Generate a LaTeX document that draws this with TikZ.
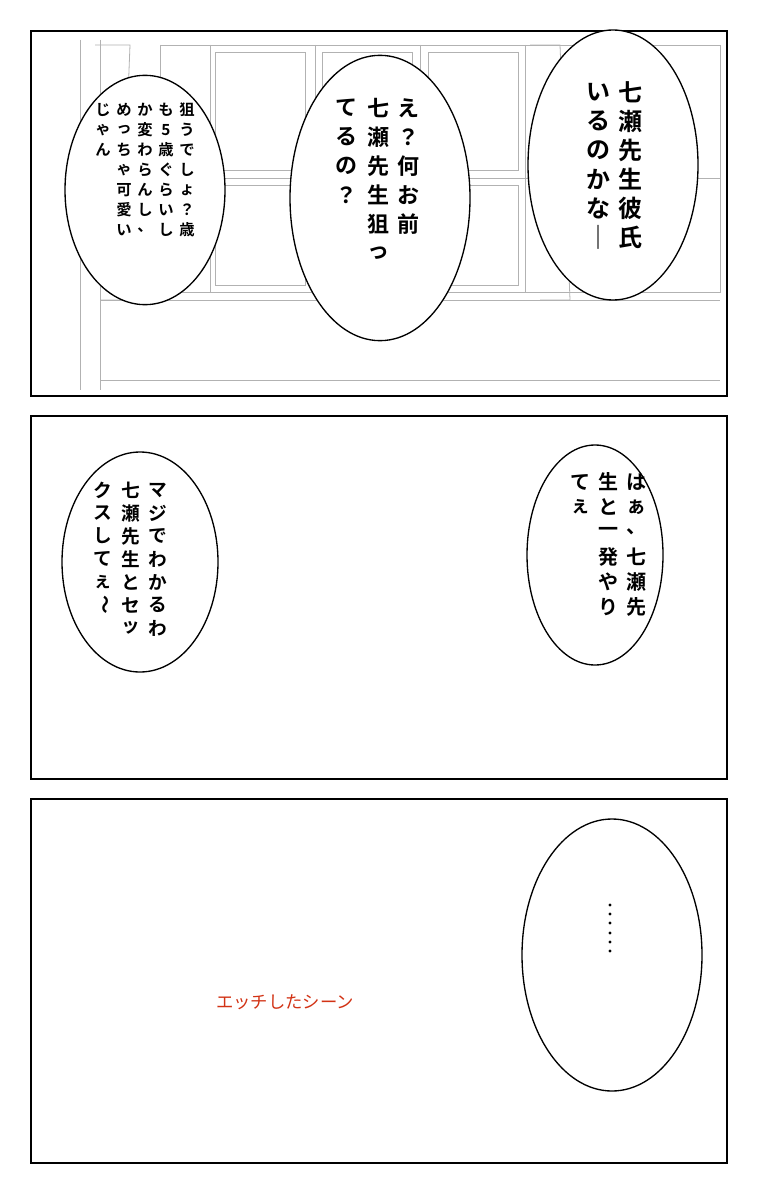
\documentclass[tikz,border=0pt]{standalone}
\usepackage{fontspec}
\usetikzlibrary{shapes.geometric}
\newfontfamily\jp{Noto Sans CJK JP}[BoldFont={* Bold}]
\begin{document}
\begin{tikzpicture}[x=0.75pt,y=-0.75pt]
\tikzset{panel/.style={draw=black,line width=1.6pt},
bubble/.style={draw=black,line width=1pt,fill=white,ellipse,inner sep=0pt},
win/.style={draw=black!30,line width=0.6pt},
ch/.style={inner sep=0pt,font=\jp\bfseries}}
\newcommand\vcolumn[5]{\foreach \c [count=\i from 0] in {#5}{\node[ch,font=\jp\bfseries\fontsize{#4}{#4}\selectfont] at (#1,#2+#3*\i) {\c};}}
\useasboundingbox (0,0) rectangle (760,1194);
\fill[white] (0,0) rectangle (760,1194);
% panel 1 background
\draw[win] (160,45) rectangle (720,292);
\foreach \x in {160,210,315,420,525,630}{\draw[win] (\x,45) -- (\x,292);}
\draw[win] (215,52) rectangle (305,170) (215,185) rectangle (305,285);
\draw[win] (322,52) rectangle (412,170) (322,185) rectangle (412,285);
\draw[win] (428,52) rectangle (518,170) (428,185) rectangle (518,285);
\draw[win] (160,178) -- (720,178);
\draw[win] (80,40) -- (80,390) (100,40) -- (100,390);
\draw[win] (100,300) -- (720,300);
\draw[win] (100,380) -- (720,380);
\draw[win] (95,45) -- (130,45) -- (120,300) -- (100,300);
\draw[win] (530,45) -- (560,45) -- (570,300) -- (540,300);
\draw[panel] (31,31) rectangle (727,396);
\draw[panel] (31,416) rectangle (727,779);
\draw[panel] (31,799) rectangle (727,1163);
% bubbles (sizes in px * 0.75)
\node[bubble,minimum width=127.5pt,minimum height=202.5pt] (a) at (613,165) {};
\node[bubble,minimum width=135pt,minimum height=214pt] (b) at (380,198) {};
\node[bubble,minimum width=120pt,minimum height=172pt] (c) at (145,190) {};
\node[bubble,minimum width=102pt,minimum height=165pt] (d) at (595,555) {};
\node[bubble,minimum width=117pt,minimum height=165pt] (e) at (140,562) {};
\node[bubble,minimum width=135pt,minimum height=204pt] (f) at (612,955) {};
% texts
\vcolumn{630}{92}{29}{18}{七,瀬,先,生,彼,氏}
\vcolumn{598}{92}{29}{18}{い,る,の,か,な,｜}
\vcolumn{408}{108}{29}{16.5}{え,？,何,お,前}
\vcolumn{378}{108}{29}{16.5}{七,瀬,先,生,狙,っ}
\vcolumn{346}{108}{29}{16.5}{て,る,の,？}
\vcolumn{187}{110}{20}{11.5}{狙,う,で,し,ょ,？,歳}
\vcolumn{166}{110}{20}{11.5}{も,5,歳,ぐ,ら,い,し}
\vcolumn{145}{110}{20}{11.5}{か,変,わ,ら,ん,し,、}
\vcolumn{124}{110}{20}{11.5}{め,っ,ち,ゃ,可,愛,い}
\vcolumn{103}{110}{20}{11.5}{じ,ゃ,ん}
\vcolumn{636}{482}{25}{15}{は,ぁ,、,七,瀬,先}
\vcolumn{608}{482}{25}{15}{生,と,一,発,や,り}
\vcolumn{580}{482}{25}{15}{て,ぇ}
\vcolumn{158}{490}{23}{14}{マ,ジ,で,わ,か,る,わ}
\vcolumn{131}{490}{23}{14}{七,瀬,先,生,と,セ,ッ}
\vcolumn{103}{490}{23}{14}{ク,ス,し,て,ぇ}
\node[ch,font=\jp\bfseries\fontsize{14}{14}\selectfont,rotate=-90] at (103,605) {～};
\foreach \yy in {905,914,923,933,942,951}{\fill (610,\yy) circle (1.6);}
\node[inner sep=0pt,text={rgb,255:red,210;green,50;blue,20},font=\jp\fontsize{13}{13}\selectfont] (r) at (285,1002) {エッチしたシーン};
\end{tikzpicture}
\end{document}
